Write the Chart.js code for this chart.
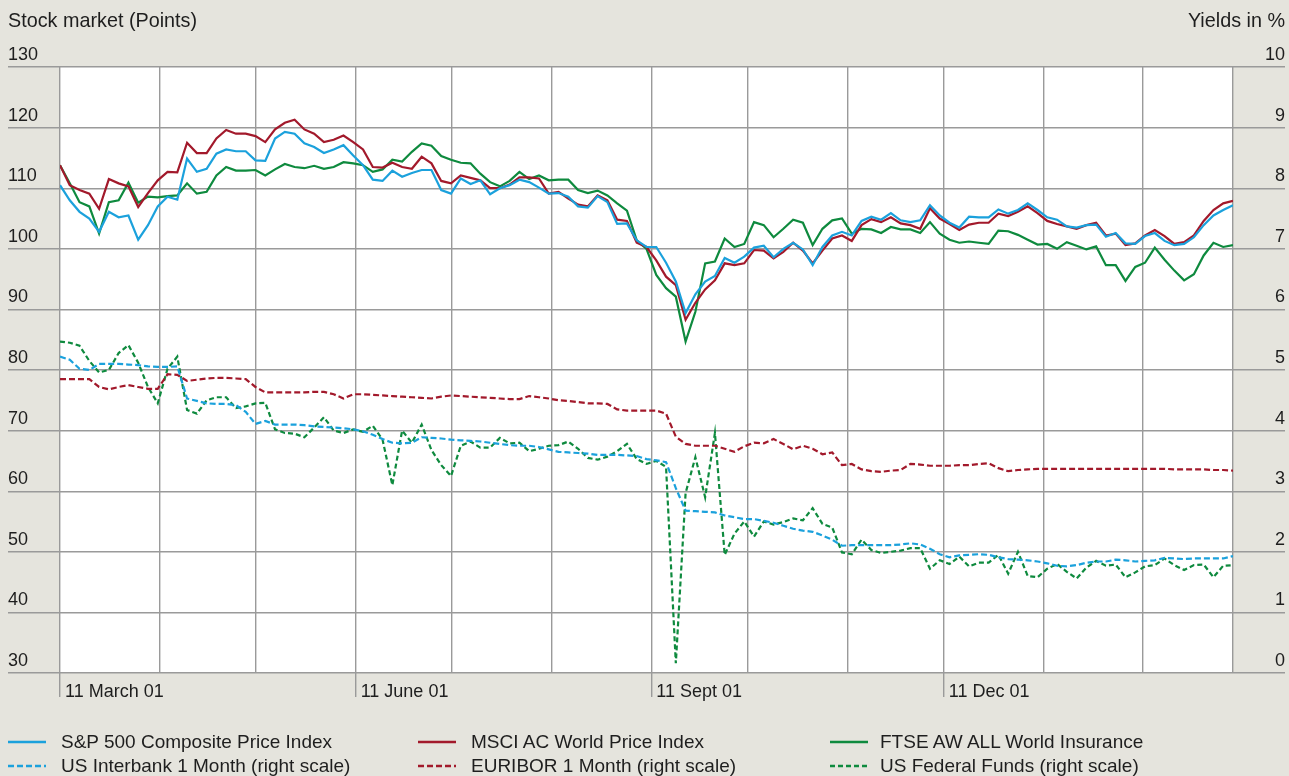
<!DOCTYPE html>
<html>
<head>
<meta charset="utf-8">
<script src="https://cdn.jsdelivr.net/npm/chart.js@4.4.1/dist/chart.umd.min.js"></script>
<style>
  html, body { margin: 0; padding: 0; background: #e5e4dd; }
  #wrap { position: relative; width: 1289px; height: 776px; font-family: "Liberation Sans", Arial, sans-serif; color: #1e1e1e; }
  #chartMarkets { position: absolute; left: 0; top: 0; }
  .axis-title { position: absolute; top: 9px; font-size: 19.8px; line-height: 22px; white-space: nowrap; }
  .legend-item { position: absolute; height: 22px; font-size: 19px; line-height: 22px; white-space: nowrap; }
  .legend-item svg { position: absolute; left: 0; top: 0; }
  .legend-item span { position: absolute; top: 0; }
</style>
</head>
<body>
<div id="wrap">
  <canvas id="chartMarkets" width="1289" height="776"></canvas>
  <div class="axis-title" style="left:8px">Stock market (Points)</div>
  <div class="axis-title" style="right:4px">Yields in %</div>
  <div id="legend"></div>
</div>
<script>
/* Mercados de acciones y tasas, 11 March 01 - 11 March 02 */

// eje x en dias desde el 11 de marzo 2001, un punto cada 365/120 dias
const monthDays = [0, 31, 61, 92, 122, 153, 184, 214, 245, 275, 306, 337, 365];
const tickDays = [0, 92, 184, 275];
const tickLabels = ['11 March 01', '11 June 01', '11 Sept 01', '11 Dec 01'];

// indices bursatiles (escala izquierda, puntos)
const sp500 = [
  110.5, 108.0, 106.1, 105.0, 102.8, 106.1, 105.2, 105.5, 101.5, 103.9,
  107.0, 108.6, 108.1, 114.9, 112.7, 113.2, 115.7, 116.4, 116.1, 116.1,
  114.6, 114.5, 118.2, 119.3, 119.0, 117.4, 116.8, 115.8, 116.4, 117.1,
  115.4, 113.8, 111.4, 111.2, 112.9, 111.9, 112.5, 113.0, 113.0, 109.7,
  109.1, 111.6, 110.7, 111.3, 109.0, 110.0, 110.5, 111.4, 111.0, 110.1,
  109.1, 109.2, 108.6, 107.0, 106.8, 108.7, 107.7, 104.1, 104.2, 101.4,
  100.3, 100.3, 97.7, 94.6, 89.4, 92.5, 94.6, 95.5, 98.5, 97.7,
  98.7, 100.2, 100.5, 98.6, 100.0, 101.0, 99.9, 97.3, 100.3, 102.2,
  102.8, 102.2, 104.6, 105.3, 104.8, 105.9, 104.7, 104.4, 104.7, 107.2,
  105.5, 104.3, 103.5, 105.3, 105.2, 105.2, 106.5, 105.8, 106.4, 107.5,
  106.4, 105.2, 104.8, 103.7, 103.5, 103.9, 104.0, 102.0, 102.6, 100.9,
  100.8, 102.1, 102.6, 101.3, 100.6, 100.8, 101.9, 103.9, 105.5, 106.4, 107.2,
];
const msciWorld = [
  113.8, 110.5, 109.7, 109.1, 106.6, 111.5, 110.8, 110.3, 106.9, 109.2,
  111.3, 112.7, 112.6, 117.5, 115.8, 115.8, 118.2, 119.6, 119.0, 119.0,
  118.6, 117.6, 119.7, 120.8, 121.3, 119.7, 119.0, 117.6, 118.0, 118.7,
  117.6, 116.4, 113.5, 113.4, 114.2, 113.5, 113.2, 115.2, 114.1, 111.2,
  110.8, 112.1, 111.7, 111.3, 110.0, 110.0, 110.6, 111.8, 111.8, 111.6,
  109.1, 109.4, 108.3, 107.3, 107.0, 108.8, 108.0, 104.8, 104.6, 101.0,
  100.3, 98.1, 95.4, 94.0, 88.3, 91.1, 93.3, 94.8, 97.6, 97.3,
  97.6, 99.8, 99.7, 98.4, 99.5, 101.0, 99.7, 97.6, 99.7, 101.7,
  102.2, 101.3, 103.9, 104.9, 104.4, 105.2, 104.2, 103.9, 103.3, 106.7,
  105.0, 104.1, 103.1, 104.0, 104.3, 104.3, 105.8, 105.4, 106.1, 107.0,
  105.9, 104.6, 104.1, 103.7, 103.3, 103.9, 104.3, 102.2, 102.5, 100.6,
  100.9, 102.2, 103.1, 102.1, 100.8, 101.1, 102.2, 104.6, 106.4, 107.5, 107.9,
];
const ftseInsurance = [
  113.8, 110.8, 107.7, 107.0, 102.5, 107.7, 108.0, 110.9, 107.6, 108.6,
  108.5, 108.7, 108.8, 110.8, 109.1, 109.4, 112.1, 113.5, 112.9, 112.9,
  113.0, 112.1, 113.1, 114.0, 113.5, 113.3, 113.7, 113.2, 113.5, 114.3,
  114.1, 113.8, 112.7, 113.1, 114.7, 114.4, 116.0, 117.4, 117.0, 115.3,
  114.7, 114.2, 114.1, 112.4, 111.0, 110.3, 111.2, 112.7, 111.5, 112.1,
  111.3, 111.4, 111.4, 109.7, 109.2, 109.6, 108.8, 107.5, 106.3, 101.4,
  100.0, 95.7, 93.5, 92.1, 84.7, 89.6, 97.6, 97.9, 101.7, 100.3,
  100.8, 104.4, 103.9, 101.9, 103.3, 104.8, 104.3, 100.6, 103.3, 104.7,
  105.0, 102.5, 103.3, 103.2, 102.6, 103.6, 103.2, 103.2, 102.6, 104.4,
  102.5, 101.5, 101.0, 101.2, 101.0, 100.8, 103.0, 102.9, 102.3, 101.5,
  100.7, 100.8, 100.0, 101.1, 100.5, 99.9, 100.4, 97.3, 97.3, 94.7,
  97.0, 97.7, 100.2, 98.2, 96.4, 94.8, 95.8, 98.9, 101.0, 100.3, 100.6,
];

// tasas (escala derecha, %)
const usInterbank = [
  5.22, 5.17, 5.02, 5.00, 5.10, 5.10, 5.10, 5.09, 5.08, 5.06,
  5.05, 5.05, 5.06, 4.53, 4.49, 4.45, 4.44, 4.44, 4.42, 4.31,
  4.11, 4.16, 4.10, 4.10, 4.10, 4.09, 4.07, 4.06, 4.05, 4.04,
  4.02, 3.99, 3.93, 3.86, 3.80, 3.79, 3.80, 3.89, 3.88, 3.87,
  3.85, 3.84, 3.83, 3.82, 3.80, 3.78, 3.76, 3.75, 3.75, 3.73,
  3.69, 3.65, 3.64, 3.63, 3.62, 3.60, 3.60, 3.60, 3.59, 3.58,
  3.53, 3.51, 3.48, 3.05, 2.68, 2.67, 2.66, 2.65, 2.60, 2.57,
  2.54, 2.54, 2.51, 2.48, 2.43, 2.38, 2.35, 2.33, 2.27, 2.20,
  2.10, 2.11, 2.11, 2.11, 2.11, 2.11, 2.12, 2.14, 2.12, 2.05,
  1.96, 1.91, 1.94, 1.95, 1.96, 1.95, 1.91, 1.88, 1.87, 1.86,
  1.84, 1.81, 1.77, 1.76, 1.78, 1.82, 1.84, 1.84, 1.87, 1.86,
  1.84, 1.85, 1.86, 1.90, 1.89, 1.88, 1.89, 1.89, 1.89, 1.89, 1.93,
];
const euribor = [
  4.85, 4.85, 4.85, 4.85, 4.72, 4.68, 4.72, 4.75, 4.72, 4.69,
  4.69, 4.93, 4.92, 4.82, 4.84, 4.86, 4.87, 4.87, 4.86, 4.85,
  4.72, 4.63, 4.63, 4.63, 4.63, 4.63, 4.64, 4.64, 4.60, 4.53,
  4.60, 4.60, 4.59, 4.58, 4.57, 4.56, 4.55, 4.54, 4.53, 4.56,
  4.58, 4.57, 4.56, 4.55, 4.54, 4.53, 4.52, 4.52, 4.57, 4.55,
  4.53, 4.50, 4.49, 4.47, 4.45, 4.45, 4.44, 4.35, 4.33, 4.33,
  4.33, 4.33, 4.28, 3.90, 3.78, 3.75, 3.75, 3.75, 3.70, 3.65,
  3.74, 3.80, 3.79, 3.86, 3.78, 3.69, 3.75, 3.70, 3.61, 3.64,
  3.43, 3.45, 3.36, 3.33, 3.32, 3.34, 3.35, 3.45, 3.44, 3.42,
  3.42, 3.42, 3.43, 3.43, 3.45, 3.46, 3.38, 3.33, 3.35, 3.36,
  3.37, 3.37, 3.37, 3.37, 3.37, 3.37, 3.37, 3.37, 3.37, 3.37,
  3.37, 3.37, 3.37, 3.37, 3.36, 3.36, 3.36, 3.36, 3.35, 3.35, 3.34,
];
const usFedFunds = [
  5.47, 5.45, 5.40, 5.15, 4.96, 5.00, 5.28, 5.41, 5.12, 4.72,
  4.45, 5.02, 5.22, 4.34, 4.28, 4.50, 4.55, 4.55, 4.37, 4.40,
  4.45, 4.46, 4.02, 3.96, 3.95, 3.89, 4.05, 4.22, 4.00, 3.96,
  4.02, 3.98, 4.08, 3.85, 3.10, 4.00, 3.80, 4.10, 3.68, 3.43,
  3.25, 3.75, 3.82, 3.72, 3.72, 3.88, 3.79, 3.80, 3.66, 3.70,
  3.75, 3.76, 3.82, 3.70, 3.55, 3.52, 3.57, 3.66, 3.78, 3.53,
  3.45, 3.50, 3.40, 0.16, 2.97, 3.56, 2.90, 3.96, 1.95, 2.30,
  2.50, 2.25, 2.50, 2.45, 2.49, 2.55, 2.52, 2.72, 2.46, 2.40,
  1.99, 1.96, 2.20, 2.03, 1.98, 2.00, 2.02, 2.06, 2.06, 1.72,
  1.86, 1.80, 1.92, 1.76, 1.82, 1.82, 1.95, 1.64, 2.00, 1.60,
  1.58, 1.72, 1.80, 1.67, 1.56, 1.74, 1.85, 1.77, 1.79, 1.58,
  1.66, 1.76, 1.78, 1.89, 1.78, 1.70, 1.78, 1.79, 1.58, 1.77, 1.78,
];

const days = sp500.map((v, i) => (i * 365) / 120);

const blue = '#1ba1dc';
const red = '#a2192b';
const green = '#0e8a3e';
const gridColor = '#9a9a9a';
const textColor = '#1e1e1e';
const tickFont = { family: '"Liberation Sans", Arial, sans-serif', size: 18 };

/* fondo blanco del area de grafico */
const plotBackground = {
  id: 'plotBackground',
  beforeDraw: (chart) => {
    const { ctx, chartArea } = chart;
    ctx.save();
    ctx.fillStyle = '#ffffff';
    ctx.fillRect(chartArea.left, chartArea.top, chartArea.right - chartArea.left, chartArea.bottom - chartArea.top);
    ctx.restore();
  },
};

const series = [
  { label: 'S&P 500 Composite Price Index', data: sp500, color: blue, dash: [], axis: 'y' },
  { label: 'MSCI AC World Price Index', data: msciWorld, color: red, dash: [], axis: 'y' },
  { label: 'FTSE AW ALL World Insurance', data: ftseInsurance, color: green, dash: [], axis: 'y' },
  { label: 'US Interbank 1 Month (right scale)', data: usInterbank, color: blue, dash: [6, 3], axis: 'y2' },
  { label: 'EURIBOR 1 Month (right scale)', data: euribor, color: red, dash: [6, 3], axis: 'y2' },
  { label: 'US Federal Funds (right scale)', data: usFedFunds, color: green, dash: [5, 3], axis: 'y2' },
];

const ctx = document.getElementById('chartMarkets').getContext('2d');
const chartMarkets = new Chart(ctx, {
  type: 'line',
  data: {
    labels: days,
    datasets: series.map((s) => ({
      label: s.label,
      data: s.data,
      yAxisID: s.axis,
      borderColor: s.color,
      borderDash: s.dash,
      borderWidth: 2.2,
      pointRadius: 0,
      tension: 0,
      fill: false,
    })),
  },
  options: {
    responsive: false,
    animation: false,
    layout: {
      padding: { left: 8, right: 4, top: 67, bottom: 0 },
    },
    scales: {
      x: {
        type: 'linear',
        min: 0,
        max: 365,
        afterBuildTicks: (scale) => {
          scale.ticks = monthDays.map((d) => ({ value: d }));
        },
        afterFit: (scale) => {
          scale.height = 103;
        },
        border: { display: false },
        grid: {
          color: gridColor,
          lineWidth: 1.4,
          tickLength: 24,
          tickColor: (c) => (c.tick && tickDays.includes(c.tick.value) ? gridColor : 'rgba(0,0,0,0)'),
        },
        ticks: {
          autoSkip: false,
          maxRotation: 0,
          align: 'start',
          labelOffset: 5,
          padding: -16,
          color: textColor,
          font: tickFont,
          callback: (v) => {
            const k = tickDays.indexOf(v);
            return k >= 0 ? tickLabels[k] : '';
          },
        },
      },
      y: {
        position: 'left',
        min: 30,
        max: 130,
        afterFit: (scale) => {
          scale.width = 52;
        },
        border: { display: false },
        grid: { color: gridColor, lineWidth: 1.4, tickLength: 52 },
        ticks: {
          stepSize: 10,
          crossAlign: 'far',
          labelOffset: -12,
          padding: 0,
          color: textColor,
          font: tickFont,
        },
      },
      y2: {
        position: 'right',
        min: 0,
        max: 10,
        afterFit: (scale) => {
          scale.width = 52;
        },
        border: { display: false },
        grid: { drawOnChartArea: false, color: gridColor, lineWidth: 1.4, tickLength: 52 },
        ticks: {
          stepSize: 1,
          crossAlign: 'far',
          labelOffset: -12,
          padding: 0,
          color: textColor,
          font: tickFont,
        },
      },
    },
    plugins: {
      legend: { display: false },
      tooltip: { enabled: false },
    },
  },
  plugins: [plotBackground],
});

/* leyenda en tres columnas */
const legendCols = [8, 418, 830];
const legendRows = [731, 755];
const legend = document.getElementById('legend');
series.forEach((s, i) => {
  const item = document.createElement('div');
  item.className = 'legend-item';
  item.style.left = legendCols[i % 3] + 'px';
  item.style.top = legendRows[Math.floor(i / 3)] + 'px';
  const dash = s.dash.length ? ' stroke-dasharray="' + s.dash.join(' ') + '"' : '';
  item.innerHTML =
    '<svg width="40" height="22"><line x1="0" y1="11" x2="38" y2="11" stroke="' + s.color + '" stroke-width="2.5"' + dash + '/></svg>' +
    '<span style="left:' + (i % 3 === 2 ? 50 : 53) + 'px">' + s.label.replace('&', '&amp;') + '</span>';
  legend.appendChild(item);
});
</script>
</body>
</html>
